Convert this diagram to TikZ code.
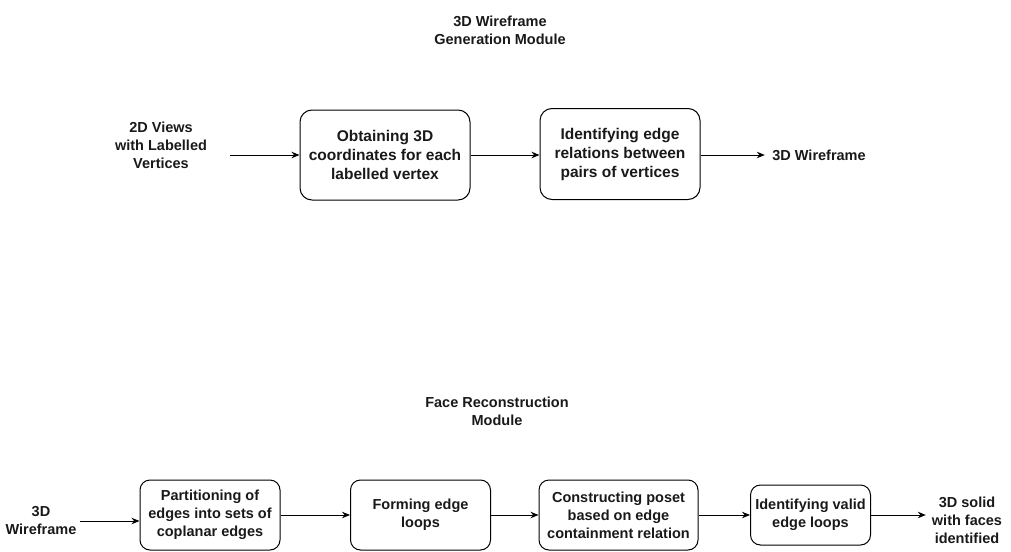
\documentclass[tikz,border=0pt]{standalone}
\usepackage{fontspec}
\setmainfont{Liberation Sans}
\usetikzlibrary{arrows.meta}
\tikzset{
  every node/.style={font=\bfseries\fontsize{14.5}{18}\selectfont, text=black!90, align=center, inner sep=0pt},
  topbox/.style={draw, line width=1pt, rounded corners=12pt, font=\bfseries\fontsize{15.5}{19}\selectfont},
  botbox/.style={draw, line width=1pt, rounded corners=10pt},
  arr/.style={line width=1pt, -{Stealth[length=8pt,width=6.5pt]}},
  lbl/.style={minimum height=14pt}
}
\begin{document}
\begin{tikzpicture}[x=1pt,y=-1pt]
\useasboundingbox (0,0) rectangle (1011,551);
% titles
\node (t1) at (500,30) {3D Wireframe\\Generation Module};
\node (t2) at (497,411) {Face Reconstruction\\Module};
% top row
\node[lbl, minimum width=138pt] (in1) at (161,145) {2D Views\\with Labelled\\Vertices};
\node[topbox, minimum width=170pt, minimum height=90pt] (a1) at (385,155) {Obtaining 3D\\coordinates for each\\labelled vertex};
\node[topbox, minimum width=160pt, minimum height=91pt] (a2) at (620,154) {Identifying edge\\relations between\\pairs of vertices};
\node[lbl, minimum width=108pt] (out1) at (819,155) {3D Wireframe};
\draw[arr] (in1.east |- a1) -- (a1);
\draw[arr] (a1) -- (a2.west |- a1);
\draw[arr] (a2.east |- out1) -- (out1);
% bottom row
\node[lbl, minimum width=78pt] (in2) at (41,521) {3D\\Wireframe};
\node[botbox, minimum width=140pt, minimum height=70pt] (b1) at (210,515) {Partitioning of\\edges into sets of\\coplanar edges};
\node[botbox, minimum width=140pt, minimum height=70pt] (b2) at (420.5,515) {Forming edge\\loops};
\node[botbox, minimum width=159pt, minimum height=70pt] (b3) at (618.5,515) {Constructing poset\\based on edge\\containment relation};
\node[botbox, minimum width=120pt, minimum height=60pt] (b4) at (810.5,515) {Identifying valid\\edge loops};
\node[lbl, minimum width=82pt] (out2) at (967,520) {3D solid\\with faces\\identified};
\draw[arr] (in2.east) -- (in2.east -| b1.west);
\draw[arr] (b1) -- (b2);
\draw[arr] (b2) -- (b3);
\draw[arr] (b3) -- (b4);
\draw[arr] (b4.east) -- (b4.east -| out2.west);
\end{tikzpicture}
\end{document}
